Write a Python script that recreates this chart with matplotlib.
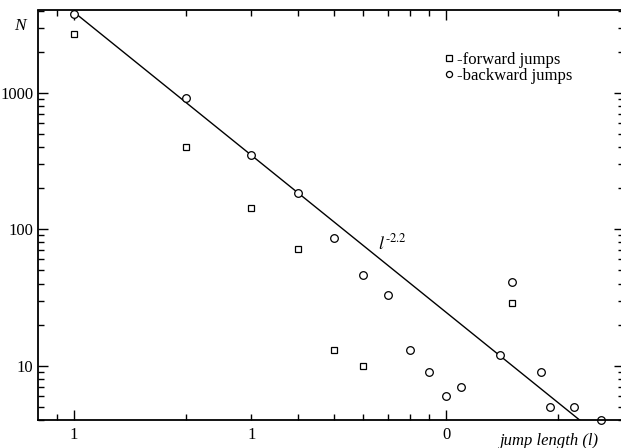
import matplotlib
matplotlib.use("Agg")
import matplotlib.pyplot as plt
from matplotlib.ticker import FixedLocator, FixedFormatter, LogLocator, NullFormatter
import numpy as np

plt.rcParams["font.family"] = ["Liberation Serif", "DejaVu Serif"]
plt.rcParams["mathtext.fontset"] = "stix"

# jump length counts
forward_len = [1, 2, 3, 4, 5, 6, 15]
forward_n = [2680, 400, 143, 72, 13, 10, 29]

backward_len = [1, 2, 3, 4, 5, 6, 7, 8, 9, 10, 11, 14, 15, 18, 19, 22, 26]
backward_n = [3750, 920, 348, 184, 86, 46, 33, 13, 9, 6, 7, 12, 41, 9, 5, 5, 4]

# power-law guide N = A * l^-2.2
fit_amp = 3900
fit_exp = -2.2

x_major_ticks = [1, 10]
x_major_labels = ["1", "0"]
x_minor_ticks = [0.9, 2, 3, 4, 5, 6, 7, 8, 9, 20, 30]
x_minor_labels = ["", "", "1", "", "", "", "", "", "", "", ""]
y_major_ticks = [10, 100, 1000]
y_major_labels = ["10", "100", "1000"]

W, H = 621, 448
fig = plt.figure(figsize=(W / 100, H / 100), dpi=100)
left, right, top, bottom = 37.7, 623.7, 10.5, 420
ax = fig.add_axes([left / W, 1 - bottom / H, (right - left) / W, (bottom - top) / H])
ax.set_xscale("log")
ax.set_yscale("log")
ax.set_xlim(0.8, 30)
ax.set_ylim(4, 4000)

lx = np.geomspace(1, 30, 200)
ax.plot(lx, fit_amp * lx ** fit_exp, color="black", lw=1.0)

ax.plot(forward_len, forward_n, ls="none", marker="s", ms=5.0, mfc="white",
        mec="black", mew=0.9, label="-forward jumps", clip_on=False)
ax.plot(backward_len, backward_n, ls="none", marker="o", ms=5.5, mfc="white",
        mec="black", mew=0.9, label="-backward jumps", clip_on=False)

ax.xaxis.set_major_locator(FixedLocator(x_major_ticks))
ax.xaxis.set_major_formatter(FixedFormatter(x_major_labels))
ax.xaxis.set_minor_locator(FixedLocator(x_minor_ticks))
ax.xaxis.set_minor_formatter(FixedFormatter(x_minor_labels))
ax.yaxis.set_major_locator(FixedLocator(y_major_ticks))
ax.yaxis.set_major_formatter(FixedFormatter(y_major_labels))
ax.yaxis.set_minor_locator(LogLocator(base=10, subs=np.arange(2, 10)))
ax.yaxis.set_minor_formatter(NullFormatter())

ax.tick_params(which="both", direction="in", top=True, right=True,
               labelsize=12, width=1.0, colors="black")
ax.tick_params(which="major", length=7.5)
ax.tick_params(which="minor", length=4)
ax.tick_params(axis="x", which="both", pad=5)
ax.tick_params(axis="y", which="both", pad=3)
for s in ax.spines.values():
    s.set_linewidth(1.3)

ax.text(6.55, 79, r"$\mathit{l}^{\text{-2.2}}$", fontsize=13, ha="left", va="center")

fig.text(20 / W, 1 - 26 / H, "N", fontsize=12.5, style="italic", ha="center", va="center")
fig.text(549 / W, 1 - 441 / H, "jump length (l)", fontsize=12, style="italic",
         ha="center", va="center")

leg = ax.legend(loc="upper left", bbox_to_anchor=(436 / W, 1 - 44 / H),
                bbox_transform=fig.transFigure, frameon=False, fontsize=12,
                handlelength=0.5, handletextpad=0.25, borderpad=0,
                labelspacing=0.0, markerscale=0.8)

fig.savefig("out.png", dpi=100)
